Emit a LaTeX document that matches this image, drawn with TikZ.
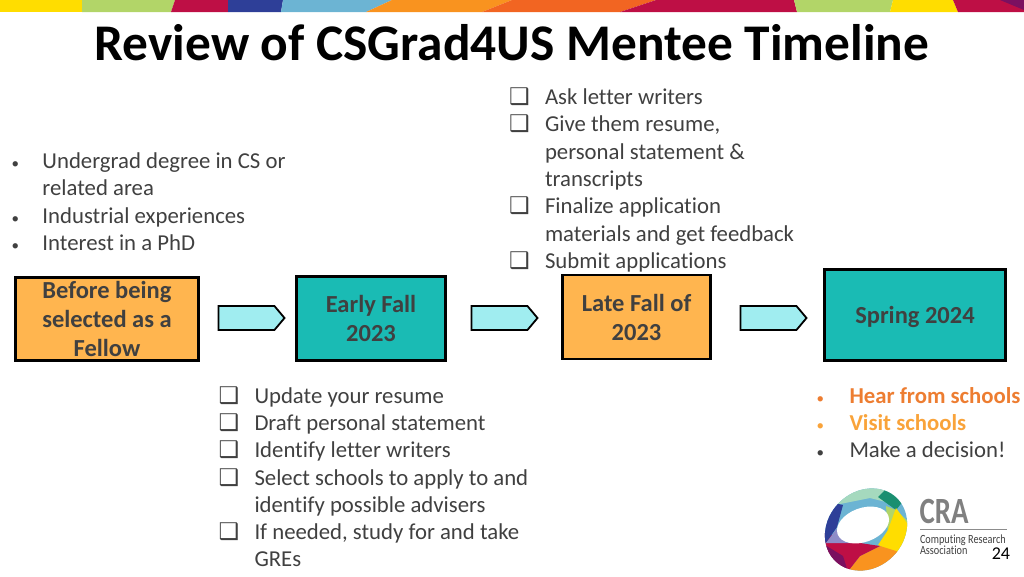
\documentclass[tikz,border=0pt]{standalone}
\usepackage{graphicx}
\usepackage{fontspec}
\setmainfont[Ligatures=CommonOff]{Carlito}
\newfontfamily\symbfont{DejaVu Sans}
\usetikzlibrary{positioning}
\usetikzlibrary{shapes.symbols}

\definecolor{bodygray}{HTML}{404040}
\definecolor{boxorange}{HTML}{FFB54F}
\definecolor{boxteal}{HTML}{1ABBB4}
\definecolor{arrowblue}{HTML}{A0EDF0}
\definecolor{hearorange}{HTML}{ED7D31}
\definecolor{visitorange}{HTML}{F9A33A}
\definecolor{bandyellow}{HTML}{FFDD00}
\definecolor{bandgreen}{HTML}{B2D568}
\definecolor{bandcrimson}{HTML}{BE0F45}
\definecolor{bandblue}{HTML}{2E3F98}
\definecolor{bandsky}{HTML}{6CB4D3}
\definecolor{bandorange}{HTML}{F9931F}
\definecolor{bandred}{HTML}{F26522}
\definecolor{bandpurple}{HTML}{7B1060}
\definecolor{logomint}{HTML}{A5D9BE}
\definecolor{logogreen}{HTML}{1A8F70}
\definecolor{logolav}{HTML}{8E8CC8}

\newcommand{\chk}{{\symbfont\fontsize{23}{27.3}\selectfont ❑}}
\newcommand{\dotb}{{\fontsize{15}{27.3}\selectfont •}}
\newcommand{\bodysize}{\fontsize{22.75}{27.3}\selectfont}

\begin{document}
\begin{tikzpicture}[
        x=1pt, y=-1pt,
        every node/.style={outer sep=0pt, inner sep=0pt},
        orangebox/.style={rectangle, draw=black, line width=2.6pt, fill=boxorange,
            text=bodygray, font=\fontsize{24.5}{29}\selectfont\bfseries, align=center},
        tealbox/.style={orangebox, fill=boxteal},
        blockarrow/.style={signal, signal to=east, signal pointer angle=100, draw=black,
            line width=1.8pt, fill=arrowblue, minimum width=66pt, minimum height=24pt},
        listtext/.style={text=bodygray, font=\bodysize},
    ]
    \useasboundingbox (0,0) rectangle (1024,576);

    % colour band
    \fill[bandyellow] (0,0) rectangle (82,12);
    \fill[bandgreen] (82,0) -- (175,0) -- (171,12) -- (82,12) -- cycle;
    \fill[bandcrimson] (175,0) -- (228,0) -- (228,12) -- (171,12) -- cycle;
    \fill[bandblue] (228,0) -- (283,0) -- (281,12) -- (228,12) -- cycle;
    \fill[bandsky] (283,0) -- (392,0) -- (366,12) -- (281,12) -- cycle;
    \fill[bandorange] (392,0) -- (512,0) -- (482,12) -- (366,12) -- cycle;
    \fill[bandred] (512,0) -- (656,0) -- (620,12) -- (482,12) -- cycle;
    \fill[bandcrimson] (656,0) -- (794,0) -- (797,12) -- (620,12) -- cycle;
    \fill[bandgreen] (794,0) -- (893,0) -- (890,12) -- (797,12) -- cycle;
    \fill[bandyellow] (893,0) -- (953,0) -- (958,12) -- (890,12) -- cycle;
    \fill[bandcrimson] (953,0) -- (1024,0) -- (1024,12) -- (958,12) -- cycle;
    \fill[bandpurple] (1000,0) -- (1024,0) -- (1024,10) -- cycle;

    \node (Title) at (512,43) {\fontsize{51.4}{54}\selectfont\bfseries Review of CSGrad4US Mentee Timeline};

    \node[orangebox, minimum width=183pt, minimum height=83pt] (B1) at (107,319)
        {Before being\\selected as a\\Fellow};
    \node[tealbox, minimum width=149pt, minimum height=84pt] (B2) [right=98pt of B1, yshift=.5pt]
        {Early Fall\\2023};
    \node[orangebox, minimum width=148pt, minimum height=84pt] (B3) [right=117pt of B2, yshift=1.5pt]
        {Late Fall of\\2023};
    \node[tealbox, minimum width=181pt, minimum height=91pt, text depth=0pt] (B4) [right=114pt of B3, yshift=2pt]
        {Spring 2024};

    \node[blockarrow] (A1) [right=20pt of B1, yshift=1pt] {};
    \node[blockarrow] (A2) [right=26pt of B2, yshift=.5pt] {};
    \node[blockarrow] (A3) [right=30pt of B3, yshift=-1pt] {};

    \node[listtext, anchor=south west] (L1) [above right=19pt and -4pt of B1.north west] {
        \begin{tabular}{@{}p{31pt}@{}l@{}}
            \dotb & Undergrad degree in CS or \\
                  & related area \\
            \dotb & Industrial experiences \\
            \dotb & Interest in a PhD \\
        \end{tabular}
    };

    \node[listtext, anchor=south west] (L2) [above right=-1.5pt and -53.5pt of B3.north west] {
        \begin{tabular}{@{}p{36pt}@{}l@{}}
            \chk & Ask letter writers \\
            \chk & Give them resume, \\
                 & personal statement \& \\
                 & transcripts \\
            \chk & Finalize application \\
                 & materials and get feedback \\
            \chk & Submit applications \\
        \end{tabular}
    };

    \node[listtext, anchor=north west] (L3) [below right=23.5pt and -78pt of B2.south west] {
        \begin{tabular}{@{}p{36pt}@{}l@{}}
            \chk & Update your resume \\
            \chk & Draft personal statement \\
            \chk & Identify letter writers \\
            \chk & Select schools to apply to and \\
                 & identify possible advisers \\
            \chk & If needed, study for and take \\
                 & GREs \\
        \end{tabular}
    };

    \node[listtext, anchor=north west] (L4) [below right=23.5pt and -8pt of B4.south west] {
        \begin{tabular}{@{}p{33pt}@{}l@{}}
            \textcolor{hearorange}{\dotb} & \textcolor{hearorange}{\bfseries Hear from schools} \\
            \textcolor{visitorange}{\dotb} & \textcolor{visitorange}{\bfseries Visit schools} \\
            \dotb & Make a decision! \\
        \end{tabular}
    };

    % logo ring
    \begin{scope}
        \clip[rotate around={45:(866,529.5)}] (866,529.5) ellipse [x radius=44pt, y radius=38pt];
        \fill[bandsky] (820,485) rectangle (912,575);
        \fill[logomint] (835,505) -- (860,485) -- (912,485) -- (898,505) -- (870,498) -- cycle;
        \fill[logogreen] (878,497) -- (890,485) -- (912,490) -- (896,510) -- cycle;
        \fill[bandgreen] (886,506) -- (896,510) -- (912,525) -- (888,535) -- cycle;
        \fill[bandyellow] (896,508) -- (912,530) -- (912,560) -- (878,545) -- (888,530) -- cycle;
        \fill[bandorange] (849,570) -- (860,556) -- (880,546) -- (912,556) -- (912,575) -- cycle;
        \fill[bandcrimson] (820,528) -- (840,540) -- (880,546) -- (860,556) -- (849,570) -- (820,555) -- cycle;
        \fill[bandpurple] (825,545) -- (843,556) -- (849,575) -- (825,575) -- cycle;
        \fill[bandblue] (820,500) -- (843,505) -- (837,527) -- (826,543) -- (820,540) -- cycle;
        \fill[logolav] (838,527) -- (852,543) -- (826,543) -- cycle;
    \end{scope}
    \fill[white, rotate around={20:(863,525)}] (863,525) ellipse [x radius=27pt, y radius=17pt];

    \node[text=black!50, anchor=west] (CRA) at (919.5,511.5) {\scalebox{.78}[1]{\fontsize{37}{37}\selectfont\bfseries CRA}};
    \draw[black!45, line width=.8pt] (920,529.5) -- (1007,529.5);
    \node[text=bodygray, anchor=north west, align=left] (Assoc) at (920,534.5)
        {\scalebox{.82}[1]{\fontsize{12.5}{12}\selectfont Computing Research}\\[-.5pt]\scalebox{.82}[1]{\fontsize{12.5}{12}\selectfont Association}};
    \node[anchor=east] (PageNo) at (1010,554) {\fontsize{18}{18}\selectfont 24};
\end{tikzpicture}
\end{document}
